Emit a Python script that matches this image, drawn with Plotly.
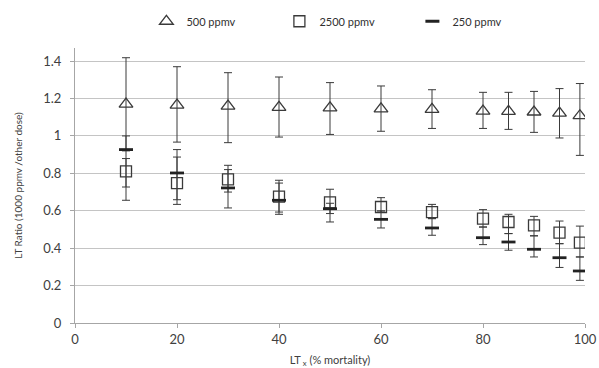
import plotly.graph_objects as go

x_vals = [10, 20, 30, 40, 50, 60, 70, 80, 85, 90, 95, 99]

# 500 ppmv (triangles)
tri_y = [1.17, 1.165, 1.159, 1.153, 1.15, 1.145, 1.142, 1.133, 1.131, 1.128, 1.122, 1.108]
tri_hi = [1.418, 1.37, 1.338, 1.315, 1.285, 1.267, 1.247, 1.233, 1.233, 1.238, 1.253, 1.28]
tri_lo = [0.92, 0.967, 0.964, 0.994, 1.008, 1.025, 1.04, 1.04, 1.035, 1.019, 0.989, 0.896]

# 2500 ppmv (squares)
sq_y = [0.811, 0.748, 0.768, 0.675, 0.645, 0.62, 0.593, 0.558, 0.54, 0.522, 0.483, 0.43]
sq_hi = [0.879, 0.887, 0.843, 0.763, 0.715, 0.67, 0.634, 0.606, 0.581, 0.57, 0.545, 0.518]
sq_lo = [0.727, 0.634, 0.70, 0.581, 0.585, 0.593, 0.558, 0.513, 0.478, 0.466, 0.424, 0.353]

# 250 ppmv (dashes)
da_y = [0.927, 0.802, 0.722, 0.656, 0.611, 0.554, 0.508, 0.456, 0.433, 0.394, 0.349, 0.278]
da_hi = [1.0, 0.927, 0.82, 0.748, 0.64, 0.60, 0.558, 0.513, 0.478, 0.466, 0.424, 0.353]
da_lo = [0.656, 0.659, 0.615, 0.593, 0.54, 0.508, 0.469, 0.419, 0.389, 0.353, 0.297, 0.228]

y_ticks = [0, 0.2, 0.4, 0.6, 0.8, 1, 1.2, 1.4]
x_ticks = [0, 20, 40, 60, 80, 100]

ink = "#3a3a3a"
font_fam = "Lato, 'Open Sans', sans-serif"


def err(y, hi, lo):
    return dict(type="data", symmetric=False,
                array=[h - v for h, v in zip(hi, y)],
                arrayminus=[v - l for v, l in zip(y, lo)],
                color=ink, thickness=1, width=4)


fig = go.Figure()
fig.add_trace(go.Scatter(
    x=x_vals, y=tri_y, mode="markers", name="500 ppmv",
    marker=dict(symbol="triangle-up-open", size=12, color=ink, line=dict(width=1.3, color=ink)),
    error_y=err(tri_y, tri_hi, tri_lo)))
fig.add_trace(go.Scatter(
    x=x_vals, y=sq_y, mode="markers", name="2500 ppmv",
    marker=dict(symbol="square-open", size=11, color=ink, line=dict(width=1.3, color=ink)),
    error_y=err(sq_y, sq_hi, sq_lo)))
fig.add_trace(go.Scatter(
    x=x_vals, y=da_y, mode="markers", name="250 ppmv",
    marker=dict(symbol="line-ew-open", size=10, color="#222222", line=dict(width=2.8, color="#222222")),
    error_y=err(da_y, da_hi, da_lo)))

fig.update_layout(
    width=599, height=368,
    margin=dict(l=75, r=14, t=48, b=45, autoexpand=False),
    paper_bgcolor="white", plot_bgcolor="white",
    font=dict(family=font_fam, size=12, color="#404040"),
    showlegend=True,
    legend=dict(orientation="h", x=0.14, xanchor="left", y=1.15, yanchor="top",
                font=dict(size=11, color="#303030"), entrywidth=88, entrywidthmode="pixels",
                itemwidth=30, bgcolor="rgba(0,0,0,0)"),
    xaxis=dict(range=[0, 100], tickvals=x_ticks, showgrid=False, zeroline=False, automargin=False,
               showline=True, linecolor="#a6a6a6", linewidth=1,
               ticks="outside", ticklen=4, tickcolor="#a6a6a6",
               tickfont=dict(size=13, color="#404040"),
               title=dict(text="LT<sub> x</sub> (% mortality)", font=dict(size=11, color="#404040"), standoff=10)),
    yaxis=dict(range=[0, 1.47], tickvals=y_ticks, showgrid=True, gridcolor="#c4c4c4", gridwidth=1,
               zeroline=False, showline=True, linecolor="#a6a6a6", linewidth=1, automargin=False,
               ticks="outside", ticklen=4, tickcolor="#a6a6a6", ticklabelstandoff=6,
               tickfont=dict(size=13, color="#404040"),
               title=dict(text="LT Ratio (1000 ppmv /other dose)", font=dict(size=10, color="#404040"), standoff=18)),
)

fig.write_html("out.html")
